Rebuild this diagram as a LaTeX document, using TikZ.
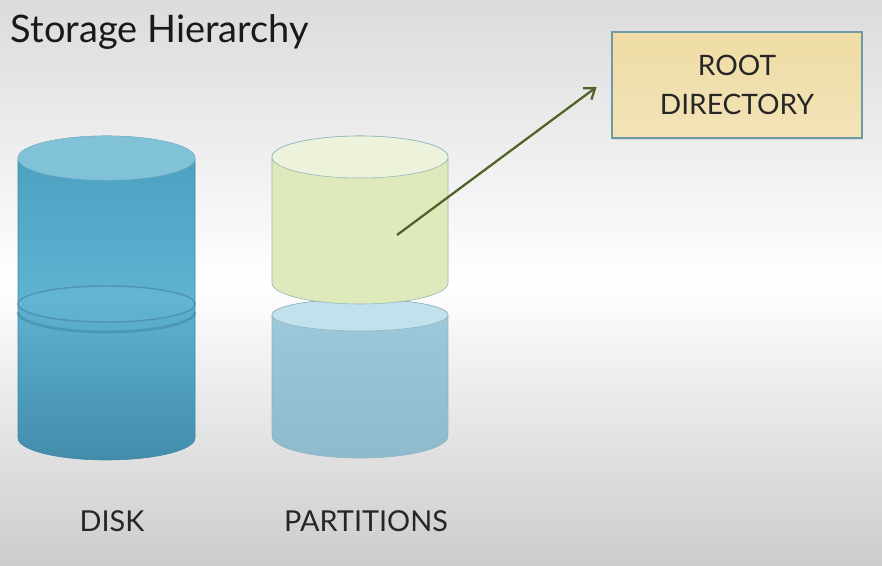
\documentclass[tikz,border=0pt]{standalone}
\usepackage{fontspec}
\setmainfont{Lato}
\usepackage{tikz}
\usetikzlibrary{positioning, shapes, arrows.meta, shadows}

\definecolor{diskblue}{HTML}{4A9FC0}
\definecolor{disklight}{HTML}{5EB3D1}
\definecolor{diskdark}{HTML}{428CAA}
\definecolor{disktop}{HTML}{80C3D9}
\definecolor{diskline}{HTML}{3C88A6}
\definecolor{partgreen}{HTML}{DEE9BC}
\definecolor{partgreentop}{HTML}{ECF3DA}
\definecolor{partblue}{HTML}{9DCBDC}
\definecolor{partbluedark}{HTML}{8DBBCB}
\definecolor{partbluetop}{HTML}{C3E1EC}
\definecolor{partline}{HTML}{8DB5BD}
\definecolor{boxtan}{HTML}{EFDCA5}
\definecolor{boxline}{HTML}{6E9AA6}
\definecolor{arrowgreen}{HTML}{4F6228}

\begin{document}
\begin{tikzpicture}[x=0.025cm, y=0.025cm,
        caplabel/.style={font=\fontsize{20.5}{24}\selectfont, text=black!85},
        rootbox/.style={draw=boxline, line width=1.2pt, top color=boxtan, bottom color=boxtan!80!white,
            minimum width=6.25cm, minimum height=2.65cm, align=center, text=black!85,
            font=\fontsize{20}{27.5}\selectfont, drop shadow={opacity=0.2, shadow xshift=1pt, shadow yshift=-1.5pt}}]
        \useasboundingbox (0,0) rectangle (882,566);
        \shade[top color=black!14, bottom color=black!20, middle color=white] (0,0) rectangle (882,566);

        \node[anchor=base west, text=black!90, font=\fontsize{27}{32}\selectfont] (title) at (6,523) {Storage Hierarchy};

        % disk
        \shadedraw[top color=diskblue, bottom color=diskdark, middle color=disklight, draw=diskline, line width=0.4pt]
            (18,408) -- (18,128) arc[start angle=180, end angle=360, x radius=88.5, y radius=22]
            -- (195,408) arc[start angle=0, end angle=180, x radius=88.5, y radius=22] -- cycle;
        \draw[diskline!90, line width=1pt, fill=disktop, fill opacity=0.15] (106.5,262) ellipse[x radius=88.5, y radius=18];
        \draw[diskdark!80!black, draw opacity=0.35, line width=2pt] (18,254) arc[start angle=180, end angle=360, x radius=88.5, y radius=20];
        \filldraw[fill=disktop, draw=diskline!60] (106.5,408) ellipse[x radius=88.5, y radius=22];

        % partitions
        \shadedraw[top color=partblue, bottom color=partbluedark, draw=partline, line width=0.4pt]
            (272,251) -- (272,130) arc[start angle=180, end angle=360, x radius=88, y radius=22]
            -- (448,251) arc[start angle=0, end angle=180, x radius=88, y radius=16] -- cycle;
        \filldraw[fill=partbluetop, draw=partline] (360,251) ellipse[x radius=88, y radius=16];
        \filldraw[fill=partgreen, draw=partline, line width=0.4pt]
            (272,409) -- (272,283) arc[start angle=180, end angle=360, x radius=88, y radius=21]
            -- (448,409) arc[start angle=0, end angle=180, x radius=88, y radius=21] -- cycle;
        \filldraw[fill=partgreentop, draw=partline] (360,409) ellipse[x radius=88, y radius=21];

        \coordinate (hook) at (397,331);
        \node[rootbox] (root) at (737,481) {ROOT\\DIRECTORY};
        \draw[arrowgreen, line width=1.6pt, -{Straight Barb[length=7pt, width=10pt]}, shorten >=0.45cm] (hook) -- (root.176);

        \node[caplabel, anchor=base] (disk) at (112,34) {DISK};
        \node[caplabel, anchor=base] (partitions) at (366,34) {PARTITIONS};
    \end{tikzpicture}
\end{document}
